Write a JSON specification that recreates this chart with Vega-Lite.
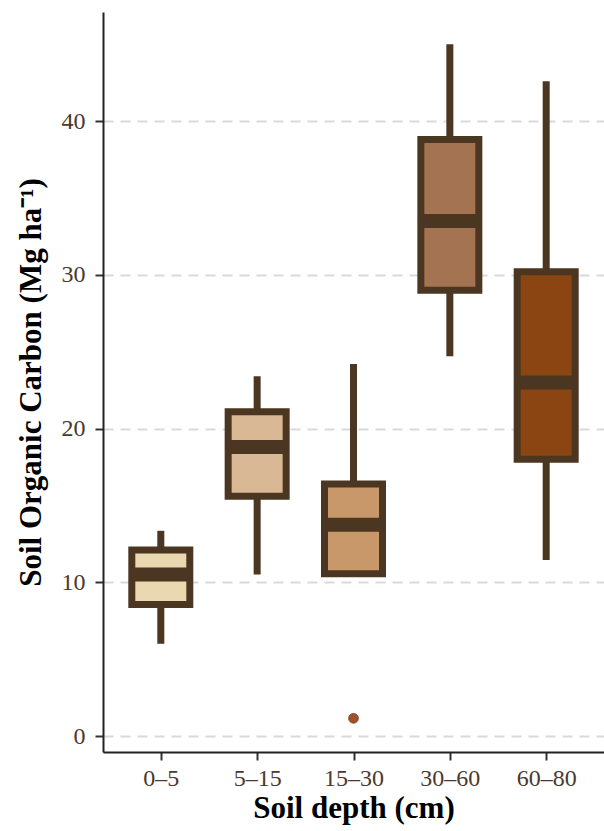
{
  "$schema": "https://vega.github.io/schema/vega-lite/v6.json",
  "width": 501,
  "height": 740,
  "autosize": "none",
  "padding": {"left": 103, "top": 12, "right": 0, "bottom": 79},
  "background": "white",
  "config": {
    "view": {"stroke": null},
    "font": "Liberation Serif",
    "axis": {
      "labelFont": "Liberation Serif",
      "titleFont": "Liberation Serif",
      "labelFontSize": 24,
      "labelColor": "#4b3a2c",
      "titleFontSize": 31,
      "titleFontWeight": "bold",
      "titleColor": "black",
      "domainColor": "#222222",
      "domainWidth": 2,
      "tickColor": "#333333",
      "tickWidth": 2,
      "tickSize": 8
    }
  },
  "datasets": {
    "boxes": [
      {"depth": "0–5", "lower": 6.0, "q1": 8.55, "median": 10.5, "q3": 12.1, "upper": 13.35},
      {"depth": "5–15", "lower": 10.5, "q1": 15.6, "median": 18.8, "q3": 21.1, "upper": 23.4},
      {"depth": "15–30", "lower": 10.55, "q1": 10.55, "median": 13.75, "q3": 16.4, "upper": 24.2},
      {"depth": "30–60", "lower": 24.7, "q1": 29.0, "median": 33.5, "q3": 38.8, "upper": 45.0},
      {"depth": "60–80", "lower": 11.45, "q1": 18.0, "median": 23.0, "q3": 30.2, "upper": 42.6}
    ],
    "outliers": [
      {"depth": "15–30", "value": 1.15}
    ]
  },
  "layer": [
    {
      "data": {"name": "boxes"},
      "mark": {"type": "rule", "color": "#4b3621", "strokeWidth": 7, "strokeCap": "butt"},
      "encoding": {
        "x": {
          "field": "depth", "type": "nominal",
          "sort": ["0–5", "5–15", "15–30", "30–60", "60–80"],
          "scale": {"type": "point", "padding": 0.6},
          "axis": {"title": "Soil depth (cm)", "labelAngle": 0, "labelPadding": 6, "titlePadding": 3, "grid": false}
        },
        "y": {
          "field": "lower", "type": "quantitative",
          "scale": {"domain": [-1.04, 47.1], "nice": false, "zero": false},
          "axis": {
            "title": "Soil Organic Carbon (Mg ha⁻¹)",
            "values": [0, 10, 20, 30, 40],
            "grid": true,
            "gridColor": "#d9d9d9",
            "gridWidth": 2,
            "gridDash": [10, 7],
            "labelPadding": 10,
            "titlePadding": 14
          }
        },
        "y2": {"field": "upper"}
      }
    },
    {
      "data": {"name": "boxes"},
      "mark": {"type": "bar", "width": 58, "stroke": "#4b3621", "strokeWidth": 7, "strokeJoin": "miter"},
      "encoding": {
        "x": {"field": "depth", "type": "nominal", "sort": ["0–5", "5–15", "15–30", "30–60", "60–80"]},
        "y": {"field": "q1", "type": "quantitative"},
        "y2": {"field": "q3"},
        "fill": {
          "field": "depth", "type": "nominal",
          "scale": {
            "domain": ["0–5", "5–15", "15–30", "30–60", "60–80"],
            "range": ["#ead9b0", "#d9b895", "#c8986b", "#a47351", "#8b4513"]
          },
          "legend": null
        }
      }
    },
    {
      "data": {"name": "boxes"},
      "mark": {"type": "tick", "color": "#4b3621", "size": 58, "thickness": 14, "opacity": 1},
      "encoding": {
        "x": {"field": "depth", "type": "nominal", "sort": ["0–5", "5–15", "15–30", "30–60", "60–80"]},
        "y": {"field": "median", "type": "quantitative"}
      }
    },
    {
      "data": {"name": "outliers"},
      "mark": {"type": "point", "shape": "circle", "filled": true, "size": 95, "color": "#a0522d", "stroke": "#7a3a1d", "strokeWidth": 0.8, "opacity": 1},
      "encoding": {
        "x": {"field": "depth", "type": "nominal", "sort": ["0–5", "5–15", "15–30", "30–60", "60–80"]},
        "y": {"field": "value", "type": "quantitative"}
      }
    }
  ]
}
